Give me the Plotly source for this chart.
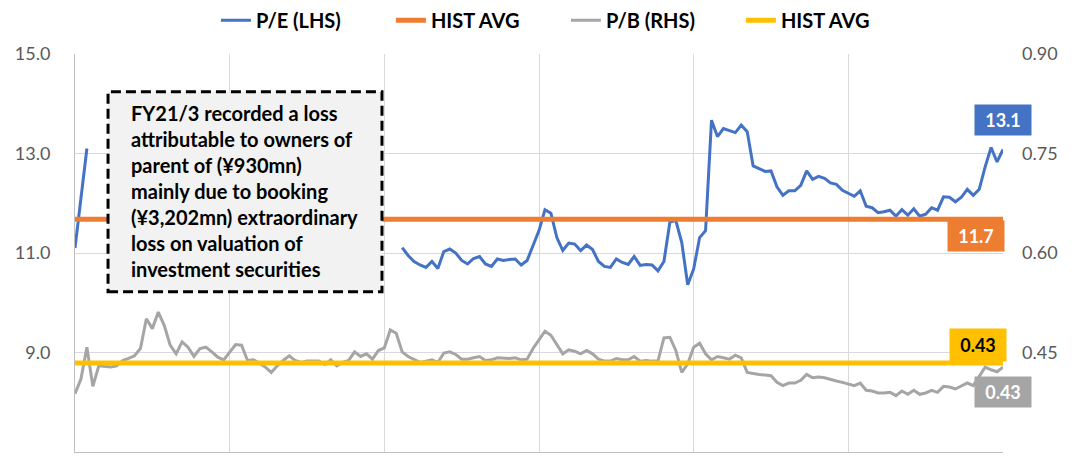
import plotly.graph_objects as go

# ---- data (weekly observations) ----
pe_early = [11.1, 12.1, 13.1]
pe_gap_weeks = 52  # loss period: P/E not meaningful
pe_late = [
    11.11, 10.95, 10.83, 10.76, 10.71, 10.83, 10.69, 11.03, 11.08, 11.00,
    10.85, 10.78, 10.89, 10.93, 10.78, 10.73, 10.88, 10.85, 10.87, 10.88,
    10.76, 10.85, 11.15, 11.45, 11.87, 11.80, 11.31, 11.05, 11.20, 11.18,
    11.05, 11.16, 11.07, 10.83, 10.73, 10.71, 10.88, 10.81, 10.77, 10.93,
    10.75, 10.77, 10.76, 10.64, 10.83, 11.62, 11.65, 11.21, 10.36, 10.68,
    11.31, 11.45, 13.67, 13.34, 13.50, 13.46, 13.42, 13.57, 13.44, 12.75,
    12.70, 12.64, 12.65, 12.33, 12.16, 12.25, 12.25, 12.36, 12.65, 12.48,
    12.54, 12.50, 12.41, 12.38, 12.26, 12.20, 12.14, 12.25, 11.94, 11.91,
    11.81, 11.83, 11.86, 11.74, 11.87, 11.76, 11.89, 11.74, 11.78, 11.91,
    11.86, 12.13, 12.12, 12.03, 12.12, 12.28, 12.16, 12.28, 12.73, 13.12,
    12.83, 13.08,
]
pe = pe_early + [None] * pe_gap_weeks + pe_late

pb = [
    0.388, 0.410, 0.458, 0.399, 0.430, 0.429, 0.428, 0.430, 0.438, 0.441,
    0.445, 0.456, 0.501, 0.486, 0.511, 0.491, 0.461, 0.448, 0.466, 0.458,
    0.444, 0.456, 0.458, 0.451, 0.443, 0.439, 0.451, 0.462, 0.461, 0.438,
    0.439, 0.433, 0.428, 0.420, 0.430, 0.438, 0.445, 0.438, 0.435, 0.437,
    0.437, 0.437, 0.432, 0.439, 0.430, 0.435, 0.438, 0.451, 0.444, 0.448,
    0.440, 0.453, 0.457, 0.484, 0.479, 0.451, 0.444, 0.439, 0.435, 0.437,
    0.439, 0.435, 0.449, 0.451, 0.447, 0.440, 0.440, 0.442, 0.444, 0.438,
    0.439, 0.442, 0.441, 0.441, 0.442, 0.439, 0.440, 0.456, 0.469, 0.482,
    0.476, 0.461, 0.448, 0.454, 0.452, 0.448, 0.453, 0.448, 0.440, 0.437,
    0.437, 0.441, 0.439, 0.439, 0.444, 0.437, 0.438, 0.437, 0.437, 0.472,
    0.473, 0.453, 0.420, 0.433, 0.458, 0.464, 0.448, 0.439, 0.444, 0.442,
    0.440, 0.446, 0.442, 0.420, 0.418, 0.417, 0.416, 0.415, 0.405, 0.400,
    0.404, 0.404, 0.408, 0.417, 0.412, 0.413, 0.412, 0.409, 0.407, 0.405,
    0.402, 0.400, 0.404, 0.393, 0.392, 0.389, 0.389, 0.390, 0.385, 0.392,
    0.387, 0.393, 0.387, 0.389, 0.393, 0.390, 0.399, 0.398, 0.395, 0.399,
    0.404, 0.400, 0.415, 0.428, 0.424, 0.421, 0.428,
]
pe_avg = 11.68
pb_avg = 0.434

series_names = ["P/E (LHS)", "HIST AVG", "P/B (RHS)", "HIST AVG"]
note_lines = [
    "FY21/3 recorded a loss",
    "attributable to owners of",
    "parent of (¥930mn)",
    "mainly due to booking",
    "(¥3,202mn) extraordinary",
    "loss on valuation of",
    "investment securities",
]
left_ticks = [7.0, 9.0, 11.0, 13.0, 15.0]
right_ticks = [0.30, 0.45, 0.60, 0.75, 0.90]

BLUE, ORANGE, GREY, YELLOW = "#4472C4", "#ED7D31", "#A5A5A5", "#FFC000"
FONT = "Lato"

n = len(pb)
x = list(range(n))

fig = go.Figure()
fig.add_trace(go.Scatter(x=x, y=pe, name=series_names[0], mode="lines",
                         line=dict(color=BLUE, width=3), yaxis="y"))
fig.add_trace(go.Scatter(x=x, y=[pe_avg] * n, name=series_names[1], mode="lines",
                         line=dict(color=ORANGE, width=5), yaxis="y"))
fig.add_trace(go.Scatter(x=x, y=pb, name=series_names[2], mode="lines",
                         line=dict(color=GREY, width=3), yaxis="y2"))
fig.add_trace(go.Scatter(x=x, y=[pb_avg] * n, name=series_names[3], mode="lines",
                         line=dict(color=YELLOW, width=5), yaxis="y2"))

grid = "#D9D9D9"
tickfont = dict(family=FONT, size=18, color="#595959")

fig.update_layout(
    width=1078, height=459,
    margin=dict(l=75, r=75, t=54, b=7, autoexpand=False),
    paper_bgcolor="white", plot_bgcolor="white",
    showlegend=True,
    legend=dict(orientation="h", x=0.529, xanchor="center", y=1.085, yanchor="middle",
                font=dict(family=FONT, size=20, color="#000000", weight=700),
                entrywidth=130, itemwidth=30, bgcolor="rgba(0,0,0,0)"),
    xaxis=dict(range=[0, n - 1], tickvals=list(range(0, n, 26)), showticklabels=False,
               showgrid=True, gridcolor=grid, gridwidth=1, zeroline=False,
               showline=True, linecolor="#BFBFBF", linewidth=1, ticks="", automargin=False),
    yaxis=dict(range=[left_ticks[0], left_ticks[-1]], tickvals=left_ticks, tickformat=".1f",
               showgrid=True, gridcolor=grid, zeroline=False, showline=True, automargin=False,
               linecolor="#BFBFBF", ticks="", tickfont=tickfont, ticklabelstandoff=20),
    yaxis2=dict(range=[right_ticks[0], right_ticks[-1]], tickvals=right_ticks, tickformat=".2f",
                overlaying="y", side="right", showgrid=False, zeroline=False, automargin=False,
                ticks="", tickfont=tickfont, ticklabelstandoff=18),
)

# note box
fig.add_shape(type="rect", xref="paper", yref="paper", x0=0.0356, x1=0.3308, y0=0.4028, y1=0.9053,
              line=dict(color="black", width=3, dash="10px,5px"), fillcolor="#F2F2F2", layer="above")
fig.add_annotation(xref="paper", yref="paper", x=0.0582, y=0.888, xanchor="left", yanchor="top",
                   align="left", showarrow=False, text="<br>".join(note_lines),
                   font=dict(family=FONT, size=20, color="black", weight=700))

# end-of-series labels
lab_font = dict(family=FONT, size=18, weight=700)
fig.add_annotation(x=n - 1, y=pe_late[-1], yref="y", text=f"{pe_late[-1]:.1f}", showarrow=False,
                   xanchor="center", yanchor="middle", yshift=30, bgcolor=BLUE,
                   font=dict(lab_font, color="white"), width=48, height=22, borderpad=4)
fig.add_annotation(x=n - 1, y=pe_avg, yref="y", text=f"{pe_avg:.1f}", showarrow=False,
                   xanchor="center", yanchor="middle", xshift=-27, yshift=-17, bgcolor=ORANGE,
                   font=dict(lab_font, color="white"), width=48, height=22, borderpad=4)
fig.add_annotation(x=n - 1, y=pb_avg, yref="y2", text=f"{pb_avg:.2f}", showarrow=False,
                   xanchor="center", yanchor="middle", xshift=-25, yshift=18, bgcolor=YELLOW,
                   font=dict(lab_font, color="black"), width=48, height=24, borderpad=4)
fig.add_annotation(x=n - 1, y=pb[-1], yref="y2", text=f"{pb[-1]:.2f}", showarrow=False,
                   xanchor="center", yanchor="middle", yshift=-25, bgcolor=GREY,
                   font=dict(lab_font, color="white"), width=48, height=22, borderpad=4)

fig.write_html("out.html", config={"displayModeBar": False},
               post_script="document.body.style.margin='0';")
